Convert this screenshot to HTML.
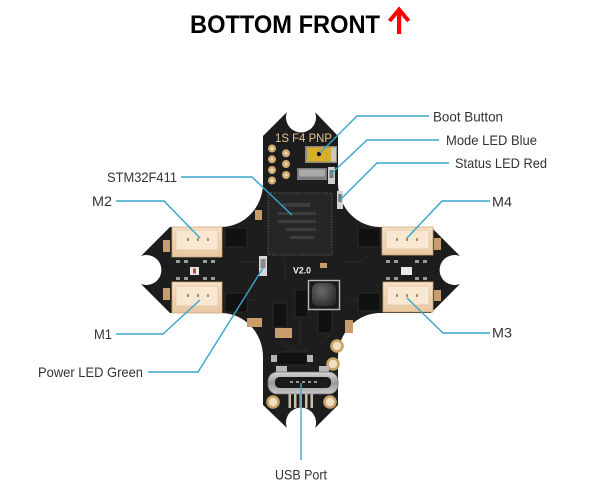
<!DOCTYPE html>
<html><head><meta charset="utf-8"><style>
html,body{margin:0;padding:0;background:#fff;}
svg{display:block;}
</style></head><body>
<svg width="600" height="487" viewBox="0 0 600 487" xmlns="http://www.w3.org/2000/svg">
<rect width="600" height="487" fill="#fff"/>
<!-- Title -->
<text x="190" y="33" font-family="Liberation Sans, Arial, sans-serif" font-weight="bold" font-size="25" fill="#000" textLength="190" lengthAdjust="spacingAndGlyphs">BOTTOM FRONT</text>
<rect x="397" y="11" width="4.2" height="23" fill="#f00"/>
<polyline points="389.5,21 399.1,9.5 408.7,21" fill="none" stroke="#f00" stroke-width="4"/>

<defs>
<linearGradient id="conn" x1="0" y1="0" x2="0" y2="1">
<stop offset="0" stop-color="#f6e2c8"/><stop offset="1" stop-color="#e9c8a0"/>
</linearGradient>
<linearGradient id="usb" x1="0" y1="0" x2="0" y2="1">
<stop offset="0" stop-color="#d6d6d6"/><stop offset="0.5" stop-color="#9a9a9a"/><stop offset="1" stop-color="#c8c8c8"/>
</linearGradient>
<radialGradient id="ind" cx="0.4" cy="0.35" r="0.7">
<stop offset="0" stop-color="#6a6a6a"/><stop offset="1" stop-color="#2e2e2e"/>
</radialGradient>
</defs>

<!-- Board -->
<path d="M287,112 A15 15 0 1 0 315,112 L338,136 L338,183 A42 44 0 0 0 380,227 L431,227 L460,256 A15 15 0 1 0 460,284 L431,313 L380,313 A42 44 0 0 0 338,357 L338,405 L315,428 A15 15 0 1 0 287,428 L263,405 L263,357 A42 44 0 0 0 221,313 L170,313 L141,284 A15 15 0 1 0 141,256 L170,227 L221,227 A42 44 0 0 0 263,183 L263,136 Z" fill="#1d1d1d"/>

<!-- faint traces -->
<g stroke="#2a2a2a" stroke-width="1" fill="none">
<path d="M240,262 L255,262 L262,270"/><path d="M345,262 L360,262 L368,255"/>
<path d="M280,340 L290,350 L310,350"/><path d="M320,345 L330,335"/>
<path d="M240,300 L255,300"/><path d="M350,300 L365,300"/>
<path d="M300,320 L300,345"/><path d="M285,260 L285,280"/>
</g>

<!-- top lobe -->
<text x="275" y="142" font-family="Liberation Sans, Arial, sans-serif" font-size="11.5" fill="#e6c58c" textLength="57" lengthAdjust="spacingAndGlyphs">1S F4 PNP</text>
<g fill="#d1ac70">
<circle cx="272" cy="148.5" r="4"/><circle cx="272" cy="159.3" r="4"/><circle cx="272" cy="170" r="4"/><circle cx="272" cy="180.5" r="4"/>
<circle cx="286" cy="153.3" r="4"/><circle cx="286" cy="164" r="4"/><circle cx="286" cy="175" r="4"/>
</g>
<g fill="#e9d9b8">
<circle cx="272" cy="148.5" r="1.6"/><circle cx="272" cy="159.3" r="1.6"/><circle cx="272" cy="170" r="1.6"/><circle cx="272" cy="180.5" r="1.6"/>
<circle cx="286" cy="153.3" r="1.6"/><circle cx="286" cy="164" r="1.6"/><circle cx="286" cy="175" r="1.6"/>
</g>
<!-- boot button -->
<rect x="305" y="146" width="32" height="17" fill="#8e8a7c"/>
<rect x="307" y="147.5" width="24" height="14" fill="#d9ad2c"/>
<rect x="331" y="147.5" width="5" height="14" fill="#c8c8c0"/>
<circle cx="319" cy="154" r="2.2" fill="#111"/>
<!-- crystal -->
<rect x="297" y="168" width="30" height="12" fill="#7d7d7d"/>
<rect x="299" y="169.5" width="26" height="7" fill="#aaa"/>
<!-- LEDs -->
<rect x="328" y="167" width="7" height="17" fill="#cfcfcf"/><rect x="329.5" y="170" width="4" height="8" fill="#777"/>
<rect x="337" y="191" width="6" height="18" fill="#d4d4d4"/><rect x="338.3" y="194" width="3.4" height="8" fill="#777"/>
<rect x="255" y="210" width="7" height="10" fill="#c89c6a"/>

<!-- MCU -->
<rect x="268" y="193" width="64" height="62" fill="#262626"/>
<rect x="268" y="193" width="64" height="62" fill="none" stroke="#5a5a5a" stroke-width="1.2" stroke-dasharray="1.2 1.6"/>
<g fill="#3c3c3c"><rect x="282" y="203" width="28" height="4"/><rect x="278" y="212" width="38" height="3"/><rect x="278" y="220" width="38" height="3"/><rect x="286" y="228" width="30" height="3"/><rect x="290" y="236" width="24" height="3"/></g>

<!-- dark ICs -->
<g fill="#111" stroke="#2e2e2e" stroke-width="0.8">
<rect x="225" y="228" width="22" height="19"/><rect x="225" y="293" width="22" height="19"/>
<rect x="358" y="228" width="22" height="19"/><rect x="358" y="293" width="22" height="18"/>
<rect x="295" y="290" width="13" height="27"/><rect x="273" y="303" width="14" height="24"/>
<rect x="318" y="310" width="14" height="23"/><rect x="277" y="352" width="30" height="13"/>
</g>
<g fill="#b5b5b5"><rect x="271" y="355" width="6" height="7"/><rect x="307" y="355" width="6" height="7"/></g>

<!-- connectors -->
<g>
<rect x="172" y="227" width="50" height="30" fill="url(#conn)" stroke="#caa37a" stroke-width="0.8"/>
<rect x="176" y="230" width="42" height="20" fill="#f8e8d2" stroke="#dcbb94" stroke-width="0.6"/>
<rect x="172" y="282" width="50" height="31" fill="url(#conn)" stroke="#caa37a" stroke-width="0.8"/>
<rect x="176" y="286" width="42" height="20" fill="#f8e8d2" stroke="#dcbb94" stroke-width="0.6"/>
<rect x="382" y="227" width="51" height="28" fill="url(#conn)" stroke="#caa37a" stroke-width="0.8"/>
<rect x="386" y="230" width="43" height="19" fill="#f8e8d2" stroke="#dcbb94" stroke-width="0.6"/>
<rect x="383" y="282" width="50" height="30" fill="url(#conn)" stroke="#caa37a" stroke-width="0.8"/>
<rect x="387" y="286" width="42" height="19" fill="#f8e8d2" stroke="#dcbb94" stroke-width="0.6"/>
</g>
<g fill="#b08b62">
<rect x="187" y="238" width="2" height="3"/><rect x="197" y="238" width="2" height="3"/><rect x="207" y="238" width="2" height="3"/>
<rect x="187" y="294" width="2" height="3"/><rect x="197" y="294" width="2" height="3"/><rect x="207" y="294" width="2" height="3"/>
<rect x="396" y="238" width="2" height="3"/><rect x="406" y="238" width="2" height="3"/><rect x="416" y="238" width="2" height="3"/>
<rect x="396" y="294" width="2" height="3"/><rect x="406" y="294" width="2" height="3"/><rect x="416" y="294" width="2" height="3"/>
</g>
<!-- tan parts on arms -->
<g fill="#c79d6c">
<rect x="163" y="240" width="7" height="12"/><rect x="163" y="288" width="7" height="12"/>
<rect x="434" y="238" width="7" height="12"/><rect x="434" y="290" width="7" height="11"/>
<rect x="275" y="328" width="17" height="10"/><rect x="255" y="318" width="7" height="9"/>
<rect x="345" y="320" width="8" height="13"/><rect x="247" y="318" width="8" height="9"/>
<rect x="320" y="263" width="7" height="5"/>
</g>
<!-- small pads between connectors -->
<g fill="#9a9a9a">
<rect x="176" y="260" width="4" height="3"/><rect x="184" y="260" width="4" height="3"/><rect x="203" y="260" width="4" height="3"/><rect x="211" y="260" width="4" height="3"/>
<rect x="176" y="277" width="4" height="3"/><rect x="184" y="277" width="4" height="3"/><rect x="203" y="277" width="4" height="3"/><rect x="211" y="277" width="4" height="3"/>
<rect x="386" y="260" width="4" height="3"/><rect x="394" y="260" width="4" height="3"/><rect x="415" y="260" width="4" height="3"/><rect x="423" y="260" width="4" height="3"/>
<rect x="386" y="277" width="4" height="3"/><rect x="394" y="277" width="4" height="3"/><rect x="415" y="277" width="4" height="3"/><rect x="423" y="277" width="4" height="3"/>
</g>
<rect x="190" y="267" width="9" height="8" fill="#e6e6e6"/><rect x="193" y="268.5" width="3" height="5" fill="#c44"/>
<rect x="401" y="267" width="11" height="8" fill="#e8e8e8"/>

<!-- power LED -->
<rect x="259" y="256" width="8" height="20" fill="#d8d8d8"/><rect x="260.5" y="259" width="5" height="9" fill="#8a8a8a"/>
<text x="293" y="273.5" font-family="Liberation Sans, Arial, sans-serif" font-weight="bold" font-size="9" fill="#f2f2f2" textLength="18" lengthAdjust="spacingAndGlyphs">V2.0</text>

<!-- inductor -->
<rect x="308.5" y="280.5" width="31" height="29" fill="#1a1a1a" stroke="#b8b8b8" stroke-width="1.4"/>
<rect x="312" y="283" width="24" height="23" rx="6" fill="url(#ind)"/>

<!-- gold rings -->
<g fill="#eee0c4" stroke="#c9a267" stroke-width="2.6">
<circle cx="337" cy="346" r="5.5"/><circle cx="333" cy="364" r="5.5"/>
<circle cx="273" cy="402" r="5.5"/><circle cx="330" cy="402" r="5.5"/>
</g>

<!-- USB -->
<rect x="276" y="366" width="11" height="7" fill="#b8b8b8"/><rect x="319" y="366" width="10" height="7" fill="#b8b8b8"/>
<rect x="268" y="372" width="70" height="22" rx="9" fill="url(#usb)" stroke="#6e6e6e" stroke-width="0.8"/>
<rect x="275" y="377" width="56" height="11" rx="4.5" fill="#1a1a1a"/>
<g fill="#9a9a9a"><rect x="290" y="381" width="3" height="2"/><rect x="296" y="381" width="3" height="2"/><rect x="302" y="381" width="3" height="2"/><rect x="308" y="381" width="3" height="2"/><rect x="314" y="381" width="3" height="2"/></g>
<g fill="#cdbfa6"><rect x="288.5" y="394" width="2.5" height="14"/><rect x="294" y="394" width="2.5" height="14"/><rect x="299.5" y="394" width="2.5" height="14"/><rect x="305" y="394" width="2.5" height="14"/><rect x="310.5" y="394" width="2.5" height="14"/></g>

<!-- callout lines -->
<g fill="none" stroke="#3aa5cc" stroke-width="1.4">
<polyline points="429,116 357,116 320,153"/>
<polyline points="439,140 367,140 330,175"/>
<polyline points="449,163 377,163 340,200"/>
<polyline points="181,177 252,177 292,215"/>
<polyline points="116,201 164,201 200,238"/>
<polyline points="116,334 163,334 200,300"/>
<polyline points="148,372 198,372 263,268"/>
<polyline points="490,201 442,201 407,238"/>
<polyline points="490,333 443,333 407,298"/>
<polyline points="301,383 301,460"/>
</g>

<!-- labels -->
<g font-family="Liberation Sans, Arial, sans-serif" font-size="13.8" fill="#333">
<text x="433" y="121.5" textLength="70" lengthAdjust="spacingAndGlyphs">Boot Button</text>
<text x="446" y="145" textLength="91" lengthAdjust="spacingAndGlyphs">Mode LED Blue</text>
<text x="455" y="168" textLength="92" lengthAdjust="spacingAndGlyphs">Status LED Red</text>
<text x="107" y="182" textLength="70" lengthAdjust="spacingAndGlyphs">STM32F411</text>
<text x="92" y="206" textLength="20" lengthAdjust="spacingAndGlyphs">M2</text>
<text x="94" y="339" textLength="18" lengthAdjust="spacingAndGlyphs">M1</text>
<text x="38" y="377" textLength="105" lengthAdjust="spacingAndGlyphs">Power LED Green</text>
<text x="492" y="206.5" textLength="20" lengthAdjust="spacingAndGlyphs">M4</text>
<text x="492" y="337.5" textLength="20" lengthAdjust="spacingAndGlyphs">M3</text>
<text x="275" y="479.5" textLength="52" lengthAdjust="spacingAndGlyphs">USB Port</text>
</g>
</svg>
</body></html>
